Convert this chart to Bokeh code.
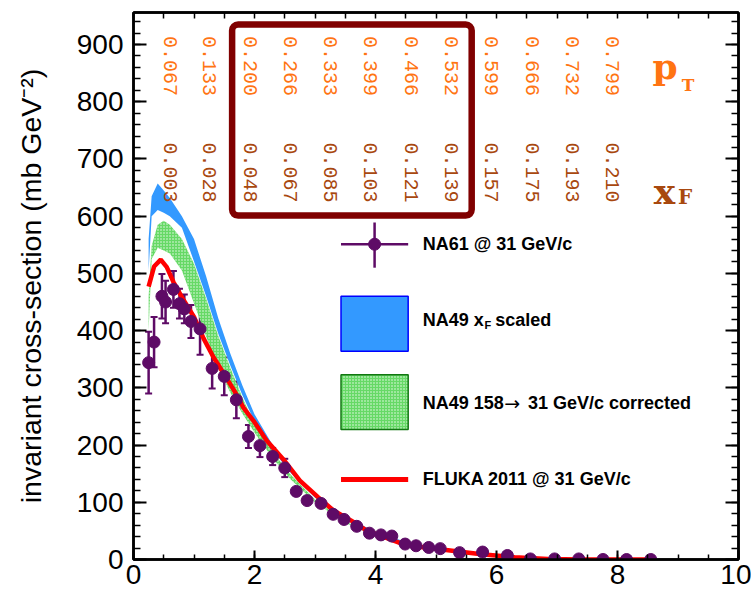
import math
from bokeh.plotting import figure
from bokeh.models import (Range1d, LinearAxis, SingleIntervalTicker, Whisker, TeeHead,
                          ColumnDataSource, BoxAnnotation, Label)
from bokeh.embed import file_html
from bokeh.resources import INLINE
from bokeh.core.properties import value

# ---------------- data ----------------
na61_p = [0.25, 0.34, 0.47, 0.53, 0.66, 0.76, 0.84, 0.95, 1.10, 1.30, 1.50, 1.70, 1.90,
          2.09, 2.30, 2.50, 2.69, 2.87, 3.10, 3.30, 3.48, 3.69, 3.90, 4.09, 4.27, 4.49,
          4.67, 4.88, 5.07, 5.39, 5.77, 6.18, 6.56, 6.96, 7.36, 7.76, 8.15, 8.55]
na61_sigma = [344, 380, 460, 450, 472, 447, 438, 416, 403, 334, 320, 279, 215,
              199, 180, 160, 119, 103, 98, 79, 70, 58, 46, 43, 41, 27,
              24, 21, 19, 12, 13, 7, 1, 1, 1, 0, 0, 0]
na61_err = [54, 44, 39, 37, 32, 26, 25, 29, 45, 35, 33, 32, 20,
            20, 15, 16, 6, 5, 5, 4, 4, 3, 3, 3, 3, 2,
            2, 2, 2, 1, 1, 1, 1, 1, 1, 1, 1, 1]

band_p = [0.25, 0.3, 0.4, 0.5, 0.6, 0.8, 1.0, 1.2, 1.4, 1.6, 1.8, 2.0, 2.3, 2.6,
          3.0, 3.5, 4.0, 4.5, 5.0]
na49_xf_hi = [560, 635, 657, 645, 632, 600, 560, 495, 422, 360, 304, 254, 200, 158,
              114, 75, 48, 31, 19]
na49_xf_lo = [505, 600, 611, 606, 600, 580, 521, 460, 395, 339, 287, 241, 191, 151,
              108, 70, 45, 28, 17]
na49_corr_hi = [460, 548, 585, 592, 585, 560, 517, 456, 391, 335, 283, 237, 188, 148,
                105, 67, 43, 27, 16]
na49_corr_lo = [400, 525, 545, 540, 535, 505, 448, 390, 335, 292, 255, 222, 177, 140,
                100, 64, 41, 25, 15]

fluka_p = [0.25, 0.34, 0.45, 0.55, 0.66, 0.83, 1.0, 1.16, 1.32, 1.49, 1.66, 1.82, 2.0,
           2.2, 2.5, 2.75, 3.05, 3.3, 3.6, 3.85, 4.1, 4.4, 4.65, 5.2, 5.75, 6.3, 6.85,
           7.4, 8.6]
fluka_sigma = [477, 512, 524, 511, 485, 453, 424, 386, 354, 325, 296, 265, 240,
               208, 172, 138, 109, 86, 68, 51, 41, 29, 23, 16, 9, 4, 1, 0, 0]

pt_labels = ["0.067", "0.133", "0.200", "0.266", "0.333", "0.399", "0.466", "0.532",
             "0.599", "0.666", "0.732", "0.799"]
xf_labels = ["0.003", "0.028", "0.048", "0.067", "0.085", "0.103", "0.121", "0.139",
             "0.157", "0.175", "0.193", "0.210"]
col_p = [0.67, 1.33, 2.00, 2.66, 3.33, 3.99, 4.66, 5.32, 5.99, 6.66, 7.32, 7.99]

# ---------------- styles ----------------
PURPLE = "#5e0b66"
BLUE = "#3399ff"
GREEN = "#66d966"
RED = "#ff0000"
ORANGE = "#ff7412"
BROWN = "#a8480f"
SANS = "Liberation Sans"
MONO = "Liberation Mono"
SERIF = "DejaVu Serif"

p = figure(width=751, height=596, output_backend="svg", toolbar_location=None,
           x_range=Range1d(0, 10), y_range=Range1d(0, 956),
           min_border_left=133, min_border_right=13, min_border_top=12,
           min_border_bottom=37)
p.background_fill_color = "white"
p.border_fill_color = "white"
p.grid.visible = False
p.outline_line_color = "black"
p.outline_line_width = 2.5

# axes
xa = p.xaxis[0]
xa.ticker = SingleIntervalTicker(interval=2, num_minor_ticks=4)
ya = p.yaxis[0]
ya.ticker = SingleIntervalTicker(interval=100, num_minor_ticks=5)
ya.axis_label = "invariant cross-section (mb GeV\u207b\u00b2)"
ya.axis_label_text_font = SANS
ya.axis_label_text_font_style = "normal"
ya.axis_label_text_font_size = "28.5px"
ya.axis_label_text_color = "black"
ya.axis_label_standoff = 27
for ax in (xa, ya):
    ax.axis_line_width = 2.5
    ax.major_label_text_font = SANS
    ax.major_label_text_font_size = "28px"
    ax.major_label_text_color = "black"
    ax.major_tick_out = 0
    ax.minor_tick_out = 0
    ax.major_tick_line_width = 2
    ax.minor_tick_line_width = 1.5
xa.major_tick_in = 9
xa.minor_tick_in = 5
xa.major_label_standoff = 5
ya.major_tick_in = 13
ya.minor_tick_in = 7
ya.major_label_standoff = 10

ra = LinearAxis(ticker=SingleIntervalTicker(interval=100, num_minor_ticks=5),
                major_label_text_color=None, major_tick_in=13, major_tick_out=0,
                minor_tick_in=7, minor_tick_out=0, axis_line_width=2.5,
                major_tick_line_width=2, minor_tick_line_width=1.5)
p.add_layout(ra, "right")
ta = LinearAxis(ticker=SingleIntervalTicker(interval=0.5, num_minor_ticks=0),
                major_label_text_color=None, major_tick_in=6, major_tick_out=0,
                axis_line_width=2.5, major_tick_line_width=1.5)
p.add_layout(ta, "above")

# bands
p.varea(x=band_p, y1=na49_xf_lo, y2=na49_xf_hi, fill_color=BLUE)
p.varea(x=band_p, y1=na49_corr_lo, y2=na49_corr_hi, fill_color=GREEN,
        hatch_pattern="dot", hatch_color="white", hatch_scale=3, hatch_alpha=0.9)

# FLUKA
p.line(x=fluka_p, y=fluka_sigma, line_color=RED, line_width=4.5)

# NA61 points
src = ColumnDataSource(dict(x=na61_p, y=na61_sigma,
                            lo=[a - b for a, b in zip(na61_sigma, na61_err)],
                            hi=[a + b for a, b in zip(na61_sigma, na61_err)]))
p.add_layout(Whisker(source=src, base="x", lower="lo", upper="hi", dimension="height",
                     line_color=PURPLE, line_width=2.5,
                     upper_head=TeeHead(size=7, line_color=PURPLE, line_width=2),
                     lower_head=TeeHead(size=7, line_color=PURPLE, line_width=2)))
p.scatter(x="x", y="y", source=src, size=12, fill_color=PURPLE, line_color=PURPLE)

# pT / xF column labels
p.text(x=col_p, y=915, text=pt_labels, angle=-math.pi / 2, x_offset=-4,
       text_align="left", text_baseline="middle", text_font=value(MONO),
       text_font_size="20px", text_color=ORANGE)
p.text(x=col_p, y=729, text=xf_labels, angle=-math.pi / 2, x_offset=-4,
       text_align="left", text_baseline="middle", text_font=value(MONO),
       text_font_size="20px", text_color=BROWN)
p.add_layout(Label(x=8.58, y=862, text="p", text_font=SERIF, text_font_style="bold",
                   text_font_size="36px", text_color=ORANGE, text_baseline="alphabetic"))
p.add_layout(Label(x=9.06, y=830, text="T", text_font=SERIF, text_font_style="bold",
                   text_font_size="17px", text_color=ORANGE, text_baseline="alphabetic"))
p.add_layout(Label(x=8.60, y=644, text="x", text_font=SERIF, text_font_style="bold",
                   text_font_size="36px", text_color=BROWN, text_baseline="alphabetic"))
p.add_layout(Label(x=9.0, y=633, text="F", text_font=SERIF, text_font_style="bold",
                   text_font_size="20px", text_color=BROWN, text_baseline="alphabetic"))

# highlight box
p.add_layout(BoxAnnotation(left=1.63, right=5.59, bottom=601, top=935,
                           fill_alpha=0, line_color="#800000", line_alpha=1,
                           line_width=6.5, border_radius=6))

# legend (hand-made)
LX0, LX1, LXC, LTX = 3.43, 4.54, 3.985, 4.78
p.segment(x0=[LX0, LXC], y0=[551, 510], x1=[LX1, LXC], y1=[551, 589],
          line_color=PURPLE, line_width=2.5)
p.scatter(x=[LXC], y=[551], size=12, fill_color=PURPLE, line_color=PURPLE)
p.add_layout(BoxAnnotation(left=LX0, right=LX1, bottom=364, top=460,
                           fill_color=BLUE, fill_alpha=1, line_color="#0000ff",
                           line_alpha=1, line_width=1.5))
p.add_layout(BoxAnnotation(left=LX0, right=LX1, bottom=227, top=323,
                           fill_color=GREEN, fill_alpha=1, hatch_pattern="dot",
                           hatch_color="white", hatch_scale=3, hatch_alpha=0.9,
                           line_color="#117711", line_alpha=1, line_width=1.5))
p.segment(x0=[LX0], y0=[140], x1=[LX1], y1=[140], line_color=RED, line_width=5)


def leg_text(x, y, t, size="18px", font=SANS):
    p.add_layout(Label(x=x, y=y, text=t, text_font=font, text_font_style="bold",
                       text_font_size=size, text_color="black", text_baseline="middle"))


leg_text(LTX, 551, "NA61 @ 31 GeV/c")
leg_text(LTX, 418, "NA49 x")
leg_text(5.80, 410, "F", "11px")
leg_text(5.98, 418, "scaled")
leg_text(LTX, 274, "NA49 158")
p.add_layout(Label(x=6.13, y=274, text="\u2192", text_font="DejaVu Sans",
                   text_font_size="19px", text_color="black", text_baseline="middle"))
leg_text(6.52, 274, "31 GeV/c corrected")
leg_text(LTX, 140, "FLUKA 2011 @ 31 GeV/c")

open("out.html", "w").write(file_html(p, INLINE))
